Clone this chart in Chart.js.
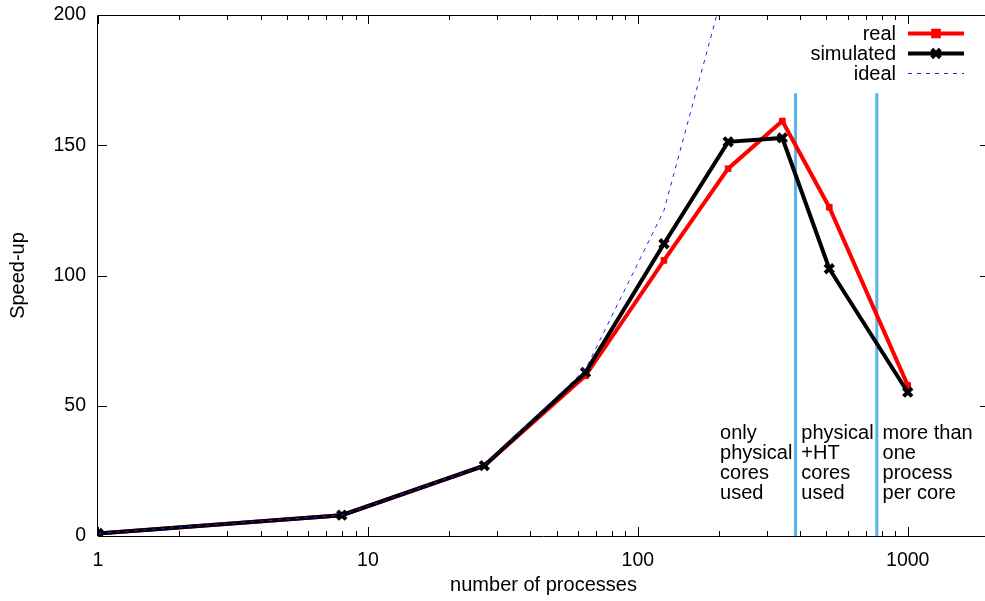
<!DOCTYPE html>
<html>
<head>
<meta charset="utf-8">
<script src="https://cdn.jsdelivr.net/npm/chart.js@4/dist/chart.umd.min.js"></script>
<style>
html,body{margin:0;padding:0;background:#fff;overflow:hidden;width:985px;height:601px;}
#wrap{width:999px;height:601px;position:relative;}
</style>
</head>
<body>
<div id="wrap"><canvas id="c" width="999" height="601"></canvas></div>
<script>
const processes = [1, 8, 27, 64, 125, 216, 343, 512, 1000];
const realSpeedup = [1, 8, 27, 61.5, 105.8, 141, 159.3, 126.2, 57.8];
const simulatedSpeedup = [1, 8, 27, 62.8, 112.2, 151.3, 152.8, 102.6, 55.2];
const idealSpeedup = [1, 8, 27, 64, 125, 216, 343, 512, 1000];
const xTickLabels = [1, 10, 100, 1000];
const yTickLabels = [0, 50, 100, 150, 200];
const coreLimits = [384, 768];
const coreLimitTop = 170;
const regionNotes = [
  {x: 200, y: 40, lines: ['only', 'physical', 'cores', 'used']},
  {x: 400, y: 40, lines: ['physical', '+HT', 'cores', 'used']},
  {x: 800, y: 40, lines: ['more than', 'one', 'process', 'per core']}
];
const seriesNames = ['real', 'simulated', 'ideal'];

const FONT = '"Liberation Sans", Arial, Helvetica, sans-serif';
const pts = (xs, ys) => xs.map((x, i) => ({x: x, y: ys[i]}));

const datasets = [
  {label: seriesNames[0], data: pts(processes, realSpeedup), borderColor: '#ff0000', backgroundColor: '#ff0000',
   borderWidth: 4, pointStyle: 'rect', pointRadius: 4, pointBorderWidth: 1, order: 2},
  {label: seriesNames[1], data: pts(processes, simulatedSpeedup), borderColor: '#000000', backgroundColor: '#000000',
   borderWidth: 4, pointStyle: 'crossRot', pointRadius: 6, pointBorderWidth: 4, order: 1},
  {label: seriesNames[2], data: pts(processes, idealSpeedup), borderColor: '#2020ff', backgroundColor: '#2020ff',
   borderWidth: 1, borderDash: [4, 5], pointRadius: 0, order: 0}
];
coreLimits.forEach(v => datasets.push({
  label: 'limit' + v, data: [{x: v, y: 0}, {x: v, y: coreLimitTop}], borderColor: '#56b4e9',
  borderWidth: 3, pointRadius: 0, order: 3, isLimit: true
}));

const decor = {
  id: 'decor',
  afterDraw(chart) {
    const ctx = chart.ctx, a = chart.chartArea;
    const xs = chart.scales.x, ys = chart.scales.y;
    ctx.save();
    ctx.strokeStyle = '#000';
    ctx.lineWidth = 1;
    ctx.beginPath();
    ctx.moveTo(Math.round(a.left) - 0.5, a.bottom);
    ctx.lineTo(Math.round(a.left) - 0.5, Math.round(a.top) + 0.5);
    ctx.lineTo(a.right, Math.round(a.top) + 0.5);
    ctx.moveTo(a.left, Math.round(a.bottom) + 0.5);
    ctx.lineTo(a.right, Math.round(a.bottom) + 0.5);
    ctx.moveTo(Math.round(a.right) - 0.5, a.top);
    ctx.lineTo(Math.round(a.right) - 0.5, a.bottom);
    ctx.stroke();
    ctx.beginPath();
    for (let k = 0; k <= 3; k++) {
      for (let m = 1; m <= 9; m++) {
        const v = m * Math.pow(10, k);
        if (v > xs.max) continue;
        const px = Math.round(xs.getPixelForValue(v)) + 0.5;
        const len = m === 1 ? 9 : 5;
        ctx.moveTo(px, a.bottom); ctx.lineTo(px, a.bottom - len);
        ctx.moveTo(px, a.top); ctx.lineTo(px, a.top + len);
      }
    }
    yTickLabels.forEach(v => {
      const py = Math.round(ys.getPixelForValue(v)) + 0.5;
      ctx.moveTo(a.left, py); ctx.lineTo(a.left + 9, py);
      ctx.moveTo(a.right, py); ctx.lineTo(a.right - 9, py);
    });
    ctx.stroke();
    ctx.fillStyle = '#000';
    ctx.font = '20px ' + FONT;
    ctx.textAlign = 'left';
    ctx.textBaseline = 'middle';
    regionNotes.forEach(n => {
      const px = xs.getPixelForValue(n.x) + 1;
      const py = ys.getPixelForValue(n.y) + 2;
      n.lines.forEach((t, i) => ctx.fillText(t, px, py + i * 20));
    });
    const lx0 = 908, lx1 = 964, textRight = 896;
    ctx.textAlign = 'right';
    [0, 1, 2].forEach(i => {
      const ds = chart.data.datasets[i];
      const y = 33 + i * 20;
      ctx.fillStyle = '#000';
      ctx.fillText(ds.label, textRight, y + 1);
      ctx.strokeStyle = ds.borderColor;
      ctx.lineWidth = ds.borderWidth;
      ctx.setLineDash(ds.borderDash || []);
      ctx.beginPath();
      ctx.moveTo(lx0, y + 0.5); ctx.lineTo(lx1, y + 0.5);
      ctx.stroke();
      ctx.setLineDash([]);
      if (ds.pointRadius > 0) {
        ctx.fillStyle = ds.backgroundColor;
        Chart.helpers.drawPoint(ctx, {pointStyle: ds.pointStyle, radius: ds.pointRadius, borderWidth: ds.pointBorderWidth, rotation: 0},
          (lx0 + lx1) / 2, y + 0.5);
      }
    });
    ctx.restore();
  }
};

new Chart(document.getElementById('c'), {
  type: 'line',
  data: {datasets: datasets},
  options: {
    responsive: false,
    animation: false,
    devicePixelRatio: 1,
    layout: {padding: {top: 15, right: 5, left: 0, bottom: 0}},
    plugins: {legend: {display: false}, tooltip: {enabled: false}},
    elements: {line: {tension: 0}},
    scales: {
      x: {
        type: 'logarithmic', min: 1, max: 2000,
        afterFit: s => { s.height = 65; s.paddingLeft = 0; s.paddingRight = 0; },
        afterBuildTicks: s => { s.ticks = xTickLabels.map(v => ({value: v})); },
        grid: {display: false, drawTicks: false},
        border: {display: false},
        ticks: {autoSkip: false, maxRotation: 0, padding: 13, color: '#000',
          font: {family: FONT, size: 19.5}, callback: v => String(v)},
        title: {display: true, text: 'number of processes', color: '#000',
          font: {family: FONT, size: 20}, padding: {top: 4, bottom: 4}}
      },
      y: {
        min: 0, max: 200,
        afterFit: s => { s.width = 98; s.paddingTop = 0; s.paddingBottom = 0; },
        afterBuildTicks: s => { s.ticks = yTickLabels.map(v => ({value: v})); },
        grid: {display: false, drawTicks: false},
        border: {display: false},
        ticks: {padding: 12, color: '#000', font: {family: FONT, size: 19.5}},
        title: {display: true, text: 'Speed-up', color: '#000',
          font: {family: FONT, size: 20}, padding: {top: 6, bottom: 0}}
      }
    }
  },
  plugins: [decor]
});
</script>
</body>
</html>
